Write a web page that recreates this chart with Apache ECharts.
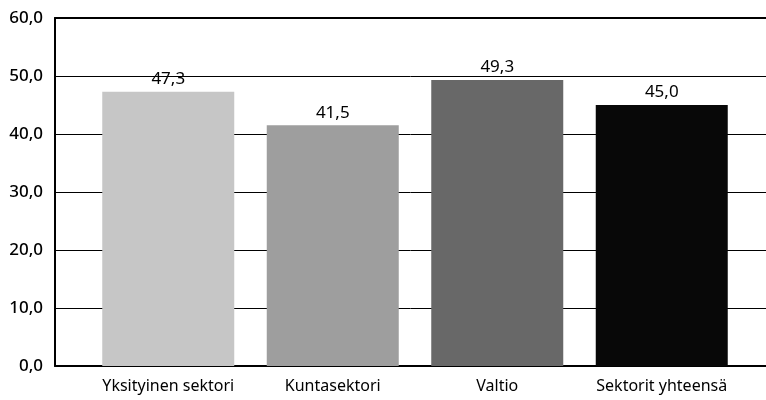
<!DOCTYPE html>
<html><head><meta charset="utf-8">
<script src="https://cdn.jsdelivr.net/npm/echarts@6/dist/echarts.min.js"></script>
<style>html,body{margin:0;padding:0;background:#fff}#c{width:766px;height:400px}</style>
</head><body><div id="c"></div>
<script>
const categories = ["Yksityinen sektori", "Kuntasektori", "Valtio", "Sektorit yhteensä"];
const values = [47.3, 41.5, 49.3, 45.0];
const barColors = ["#c6c6c6", "#9e9e9e", "#686868", "#080808"];
const yTicks = [0, 10, 20, 30, 40, 50, 60];

const fmt = v => v.toFixed(1).replace('.', ',');
const font = "'Noto Sans', 'Open Sans', sans-serif";
const chart = echarts.init(document.getElementById('c'));
chart.setOption({
  animation: false,
  grid: [
    {left: 55, right: 0, top: 18, bottom: 34},
    {left: 86, right: 22, top: 18, bottom: 34}
  ],
  xAxis: [
    {gridIndex: 0, type: 'category', data: [''], axisLine: {show: true, lineStyle: {color: '#000', width: 2}}, axisTick: {show: false}, axisLabel: {show: false}, splitLine: {show: false}},
    {gridIndex: 1, type: 'category', data: categories, axisLine: {show: false}, axisTick: {show: false},
      axisLabel: {interval: 0, color: '#000', fontFamily: font, fontSize: 16, margin: 12}},
    {gridIndex: 0, type: 'category', position: 'top', data: [''], axisLine: {show: true, lineStyle: {color: '#000', width: 2}}, axisTick: {show: false}, axisLabel: {show: false}}
  ],
  yAxis: [
    {gridIndex: 0, type: 'value', min: yTicks[0], max: yTicks[yTicks.length-1], interval: 10,
      axisLine: {show: true, lineStyle: {color: '#000', width: 2}}, axisTick: {show: false},
      axisLabel: {color: '#000', fontFamily: font, fontSize: 17, fontWeight: 500, margin: 12, formatter: v => fmt(v)},
      splitLine: {show: true, lineStyle: {color: '#000', width: 1}}},
    {gridIndex: 1, type: 'value', min: yTicks[0], max: yTicks[yTicks.length-1], interval: 10, show: false, splitLine: {show: false}}
  ],
  series: [{
    type: 'bar', xAxisIndex: 1, yAxisIndex: 1, barWidth: 132,
    data: values.map((v, i) => ({value: v, itemStyle: {color: barColors[i]}})),
    label: {show: true, position: 'top', distance: 4, color: '#000', fontFamily: font, fontSize: 17, formatter: p => fmt(p.value)}
  }]
});
</script></body></html>
